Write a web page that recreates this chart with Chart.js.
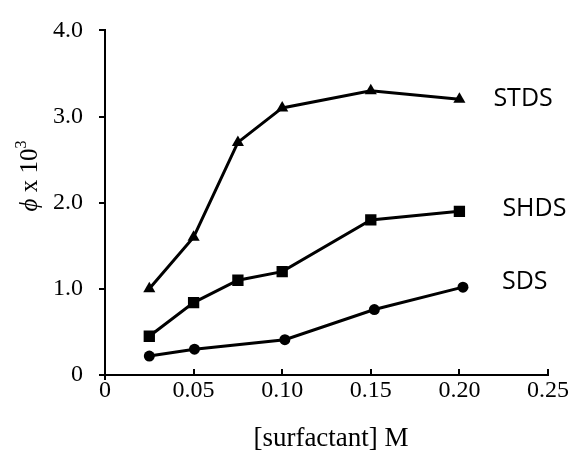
<!DOCTYPE html>
<html>
<head>
<meta charset="utf-8">
<script src="https://cdn.jsdelivr.net/npm/chart.js@4.4.1/dist/chart.umd.min.js"></script>
<style>
  body { margin: 0; background: #fff; }
</style>
</head>
<body>
<canvas id="phiChart" width="575" height="453"></canvas>
<script>
// values
const seriesNames = ["STDS", "SHDS", "SDS"];
const stdsX = [0.025, 0.05, 0.075, 0.10, 0.15, 0.20];
const stdsY = [1.0, 1.6, 2.7, 3.1, 3.3, 3.2];
const shdsX = [0.025, 0.05, 0.075, 0.10, 0.15, 0.20];
const shdsY = [0.45, 0.84, 1.1, 1.2, 1.8, 1.9];
const sdsX = [0.025, 0.0505, 0.1015, 0.152, 0.202];
const sdsY = [0.22, 0.30, 0.41, 0.76, 1.02];
const xTickLabels = ["0", "0.05", "0.10", "0.15", "0.20", "0.25"];
const yTickLabels = ["0", "1.0", "2.0", "3.0", "4.0"];

const toPoints = (xs, ys) => xs.map((x, i) => ({ x: x, y: ys[i] }));

const serif = "'Liberation Serif', 'Times New Roman', serif";

// where each series name sits, relative to its last point
const labelOffsets = {
    STDS: { dx: 34, dy: 0 },
    SHDS: { dx: 43, dy: -2 },
    SDS: { dx: 39, dy: -5 }
};

const extras = {
    id: "extras",
    afterDraw: (chart) => {
        const ctx = chart.ctx;
        const xs = chart.scales.x;
        const area = chart.chartArea;

        // x ticks point inwards
        ctx.save();
        ctx.strokeStyle = "#000";
        ctx.lineWidth = 2;
        xs.ticks.forEach((t, i) => {
            if (i === 0) return;
            const px = Math.round(xs.getPixelForTick(i));
            ctx.beginPath();
            ctx.moveTo(px, area.bottom);
            ctx.lineTo(px, area.bottom - 6);
            ctx.stroke();
        });
        // small bit of y axis below the origin
        ctx.beginPath();
        ctx.moveTo(area.left, area.bottom);
        ctx.lineTo(area.left, area.bottom + 5);
        ctx.stroke();

        // series names
        ctx.fillStyle = "#000";
        ctx.font = "25px 'Open Sans', 'Noto Sans', sans-serif";
        ctx.textAlign = "left";
        ctx.textBaseline = "middle";
        chart.data.datasets.forEach((ds, i) => {
            const meta = chart.getDatasetMeta(i);
            const last = meta.data[meta.data.length - 1];
            const off = labelOffsets[ds.label];
            ctx.fillText(ds.label, last.x + off.dx, last.y + off.dy);
        });

        // x title
        ctx.font = "27px " + serif;
        ctx.textAlign = "center";
        ctx.fillText("[surfactant] M", 331, 439);

        // y title: italic phi, then x 10^3
        ctx.translate(30, 176);
        ctx.rotate(-Math.PI / 2);
        ctx.textAlign = "left";
        const phiFont = "italic 25px " + serif;
        const mainFont = "25px " + serif;
        const supFont = "16px " + serif;
        ctx.font = phiFont;
        const w1 = ctx.measureText("\u03D5").width;
        ctx.font = mainFont;
        const w2 = ctx.measureText(" x 10").width;
        ctx.font = supFont;
        const w3 = ctx.measureText("3").width;
        let cx = -(w1 + w2 + w3) / 2;
        ctx.font = phiFont;
        ctx.fillText("\u03D5", cx, 0);
        cx += w1;
        ctx.font = mainFont;
        ctx.fillText(" x 10", cx, 0);
        cx += w2;
        ctx.font = supFont;
        ctx.fillText("3", cx, -8);
        ctx.restore();
    }
};

new Chart(document.getElementById("phiChart"), {
    type: "line",
    data: {
        datasets: [{
            label: seriesNames[0],
            data: toPoints(stdsX, stdsY),
            borderColor: "#000",
            backgroundColor: "#000",
            borderWidth: 3,
            pointStyle: "triangle",
            pointRadius: 7,
            pointBorderWidth: 0,
            tension: 0
        }, {
            label: seriesNames[1],
            data: toPoints(shdsX, shdsY),
            borderColor: "#000",
            backgroundColor: "#000",
            borderWidth: 3,
            pointStyle: "rect",
            pointRadius: 8,
            pointBorderWidth: 0,
            tension: 0
        }, {
            label: seriesNames[2],
            data: toPoints(sdsX, sdsY),
            borderColor: "#000",
            backgroundColor: "#000",
            borderWidth: 3,
            pointStyle: "circle",
            pointRadius: 5.5,
            pointBorderWidth: 0,
            tension: 0
        }]
    },
    options: {
        responsive: false,
        animation: false,
        layout: { padding: { top: 24, right: 27, left: 0, bottom: 0 } },
        plugins: {
            legend: { display: false },
            tooltip: { enabled: false }
        },
        scales: {
            x: {
                type: "linear",
                min: 0,
                max: 0.25,
                afterFit: (scale) => { scale.height = 78; },
                grid: { display: false, drawTicks: false },
                border: { color: "#000", width: 2 },
                ticks: {
                    stepSize: 0.05,
                    padding: 1,
                    color: "#000",
                    font: { family: serif, size: 24 },
                    callback: (v, i) => xTickLabels[i]
                }
            },
            y: {
                min: 0,
                max: 4,
                afterFit: (scale) => { scale.width = 105; },
                grid: { drawOnChartArea: false, drawTicks: true, tickLength: 6, color: "#000", lineWidth: 2 },
                border: { color: "#000", width: 2 },
                ticks: {
                    stepSize: 1,
                    padding: 16,
                    color: "#000",
                    font: { family: serif, size: 24 },
                    callback: (v, i) => yTickLabels[i]
                }
            }
        }
    },
    plugins: [extras]
});
</script>
</body>
</html>
